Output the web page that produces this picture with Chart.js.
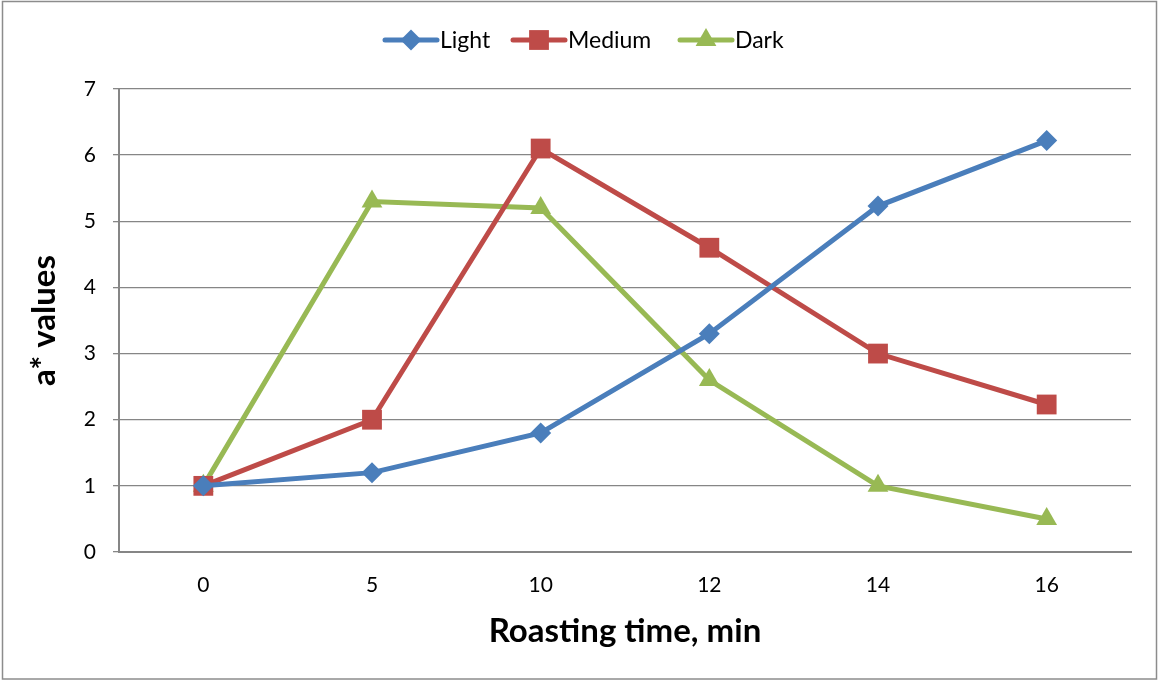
<!DOCTYPE html>
<html><head><meta charset="utf-8">
<script src="https://cdn.jsdelivr.net/npm/chart.js@4/dist/chart.umd.min.js"></script>
<style>html,body{margin:0;padding:0;background:#fff}#wrap{width:1158px;height:681px;position:relative}</style>
</head><body><div id="wrap"><canvas id="c" width="1158" height="681"></canvas></div>
<script>
const categories = ['0','5','10','12','14','16'];
const seriesNames = ['Light','Medium','Dark'];
const lightValues = [1.0, 1.2, 1.8, 3.3, 5.23, 6.22];
const mediumValues = [1.0, 2.0, 6.1, 4.6, 3.0, 2.23];
const darkValues = [1.0, 5.3, 5.2, 2.6, 1.0, 0.5];
const yTicks = [0,1,2,3,4,5,6,7];
const xTitle = 'Roasting time, min';
const yTitle = 'a* values';

const colors = ['#4A7EBB','#BE4B48','#98B954'];
const styles = ['rectRot','rect','triangle'];
const radii = [10.5, 14, 12];
const FONT = 'Lato, "Open Sans", sans-serif';

const datasets = [lightValues, mediumValues, darkValues].map((d,i)=>({
  label: seriesNames[i], data: d, borderColor: colors[i], backgroundColor: colors[i],
  borderWidth: 5, pointStyle: styles[i], pointRadius: radii[i], pointHoverRadius: radii[i],
  pointBorderWidth: 0, tension: 0
}));

const frame = {
  id: 'frame',
  beforeDraw(chart){
    const ctx = chart.ctx; ctx.save();
    ctx.fillStyle = '#fff'; ctx.fillRect(0,0,chart.width,chart.height);
    ctx.strokeStyle = '#8c8c8c'; ctx.lineWidth = 1.5;
    ctx.strokeRect(2.5, 1.5, 1154, 677.5);
    ctx.restore();
  },
  afterDraw(chart){
    const ctx = chart.ctx; ctx.save();
    const items = [{x:385},{x:513},{x:680}];
    const cy = 40;
    chart.data.datasets.forEach((ds,i)=>{
      const x0 = items[i].x, x1 = x0 + 52, cx = (x0+x1)/2;
      ctx.strokeStyle = ds.borderColor; ctx.lineWidth = 5; ctx.lineCap='round';
      ctx.beginPath(); ctx.moveTo(x0, cy); ctx.lineTo(x1, cy); ctx.stroke();
      ctx.lineCap='butt';
      ctx.fillStyle = ds.backgroundColor;
      ctx.beginPath();
      const r = ds.pointRadius;
      if (ds.pointStyle==='rectRot'){ ctx.moveTo(cx, cy-r); ctx.lineTo(cx+r, cy); ctx.lineTo(cx, cy+r); ctx.lineTo(cx-r, cy); }
      else if (ds.pointStyle==='rect'){ const s=r*Math.SQRT1_2; ctx.rect(cx-s, cy-s, 2*s, 2*s); }
      else { const h=r; ctx.moveTo(cx, cy-h); ctx.lineTo(cx+h*0.866, cy+h*0.5); ctx.lineTo(cx-h*0.866, cy+h*0.5); }
      ctx.closePath(); ctx.fill();
      ctx.fillStyle = '#000'; ctx.font = '23px ' + FONT; ctx.textBaseline='middle'; ctx.textAlign='left';
      ctx.fillText(ds.label, x1 + 3, cy+1);
    });
    ctx.restore();
  }
};

new Chart(document.getElementById('c'), {
  type: 'line',
  data: { labels: categories, datasets },
  options: {
    responsive: false, animation: false, devicePixelRatio: 1,
    layout: { padding: { left: 0, right: 27, top: 89, bottom: 30 } },
    plugins: { legend: { display: false }, tooltip: { enabled: false } },
    scales: {
      x: {
        offset: true,
        grid: { display: false, drawTicks: false },
        border: { display: true, color: '#868686', width: 2 },
        ticks: { color: '#000', font: { size: 21, family: FONT }, padding: 21, maxRotation: 0 },
        title: { display: true, text: xTitle, color: '#000', font: { size: 33, weight: 'bold', family: FONT }, padding: { top: 0, bottom: 0 } },
        afterFit(s){ s.height = 681 - 30 - 552; }
      },
      y: {
        min: 0, max: 7,
        afterBuildTicks(s){ s.ticks = yTicks.map(v=>({value:v})); },
        grid: { color: '#868686', lineWidth: 1.3, tickLength: 6, drawTicks: true },
        border: { display: true, color: '#868686', width: 2 },
        ticks: { color: '#000', font: { size: 21, family: FONT }, padding: 17 },
        title: { display: true, text: yTitle, color: '#000', font: { size: 33, weight: 'bold', family: FONT }, padding: { top: 25, bottom: 0 } },
        afterFit(s){ s.width = 119; }
      }
    }
  },
  plugins: [frame]
});
</script></body></html>
